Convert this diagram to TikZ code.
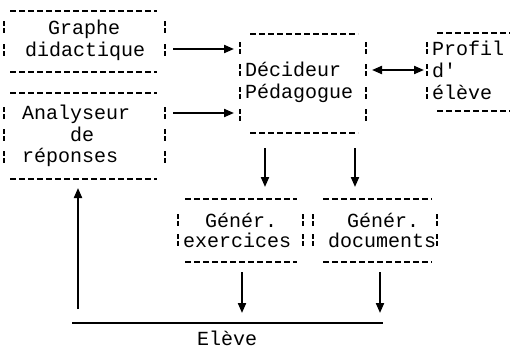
\documentclass[tikz,border=0pt]{standalone}
\usepackage{fontspec}
\setmonofont{Liberation Mono}
\usetikzlibrary{arrows.meta}
\newcommand\vbr[2]{\draw[vbar] (#1,#2-6) -- (#1,#2+6);}
\begin{document}
\begin{tikzpicture}[x=1pt,y=-1pt,
  txt/.style={font=\ttfamily\fontsize{20}{20}\selectfont, anchor=base west, inner sep=0pt},
  hdash/.style={line width=1.5pt, dash pattern=on 6pt off 3pt},
  vbar/.style={line width=1.2pt, dash pattern=on 5pt off 2pt},
  arr/.style={line width=2pt, -{Triangle[length=10pt,width=8pt]}},
  darr/.style={line width=2pt, {Triangle[length=10pt,width=8pt]}-{Triangle[length=10pt,width=8pt]}},
  solid line/.style={line width=2.6pt},
]
\useasboundingbox[fill=white] (0,0) rectangle (515,351);

% ---------- Graphe didactique ----------
\draw[hdash] (10,11) -- (157,11);
\draw[hdash] (10,72) -- (157,72);
\foreach \y in {27,50} {\vbr{4}{\y}\vbr{165}{\y}}
\node[txt] (g1) at (48,34) {Graphe};
\node[txt] (g2) at (25,56) {didactique};

% ---------- Analyseur de reponses ----------
\draw[hdash] (10,93) -- (157,93);
\draw[hdash] (10,179) -- (157,179);
\foreach \y in {113,135,157} {\vbr{4}{\y}\vbr{165}{\y}}
\node[txt] (a1) at (22,119) {Analyseur};
\node[txt] (a2) at (70,141) {de};
\node[txt] (a3) at (22,162) {réponses};

% ---------- Decideur pedagogue ----------
\draw[hdash] (250,34) -- (358,34);
\draw[hdash] (250,133) -- (358,133);
\foreach \y in {48,70,93,115} {\vbr{240}{\y}\vbr{366}{\y}}
\node[txt] (d1) at (245,76) {Décideur};
\node[txt] (d2) at (245,98) {Pédagogue};

% ---------- Profil d'eleve ----------
\draw[hdash] (437,33) -- (510,33);
\draw[hdash] (437,111) -- (510,111);
\foreach \y in {48,70,93} {\vbr{427}{\y}}
\node[txt] (p1) at (432,55) {Profil};
\node[txt] (p2) at (432,77) {d'};
\node[txt] (p3) at (432,99) {élève};

% ---------- Gener. exercices ----------
\draw[hdash] (185,199) -- (297,199);
\draw[hdash] (185,262) -- (297,262);
\foreach \y in {220,240} {\vbr{178}{\y}\vbr{303}{\y}}
\node[txt] (e1) at (205,227) {Génér.};
\node[txt] (e2) at (183,247) {exercices};

% ---------- Gener. documents ----------
\draw[hdash] (323,199) -- (432,199);
\draw[hdash] (323,262) -- (432,262);
\foreach \y in {220,240} {\vbr{313}{\y}\vbr{437}{\y}}
\node[txt] (c1) at (347,227) {Génér.};
\node[txt] (c2) at (328,247) {documents};

% ---------- Eleve ----------
\node[txt] (el) at (197,345) {Elève};

% ---------- connector end points ----------
\coordinate (gOut) at (173,49);
\coordinate (dInG) at (234,49);
\coordinate (aOut) at (173,113);
\coordinate (dInA) at (234,113);
\coordinate (dOut) at (372,70);
\coordinate (pIn) at (424,70);
\coordinate (dEx) at (265,148);
\coordinate (exIn) at (265,187);
\coordinate (dDo) at (355,148);
\coordinate (doIn) at (355,187);
\coordinate (exOut) at (242,272);
\coordinate (elA) at (242,313);
\coordinate (doOut) at (380,272);
\coordinate (elB) at (380,313);
\coordinate (lineL) at (72,323);
\coordinate (lineR) at (383,323);
\coordinate (fb) at (78,309);
\coordinate (aIn) at (78,188);

\draw[arr] (gOut) -- (dInG);
\draw[arr] (aOut) -- (dInA);
\draw[darr] (dOut) -- (pIn);
\draw[arr] (dEx) -- (exIn);
\draw[arr] (dDo) -- (doIn);
\draw[arr] (exOut) -- (elA);
\draw[arr] (doOut) -- (elB);
\draw[solid line] (lineL) -- (lineR);
\draw[arr] (fb) -- (aIn);
\end{tikzpicture}
\end{document}
